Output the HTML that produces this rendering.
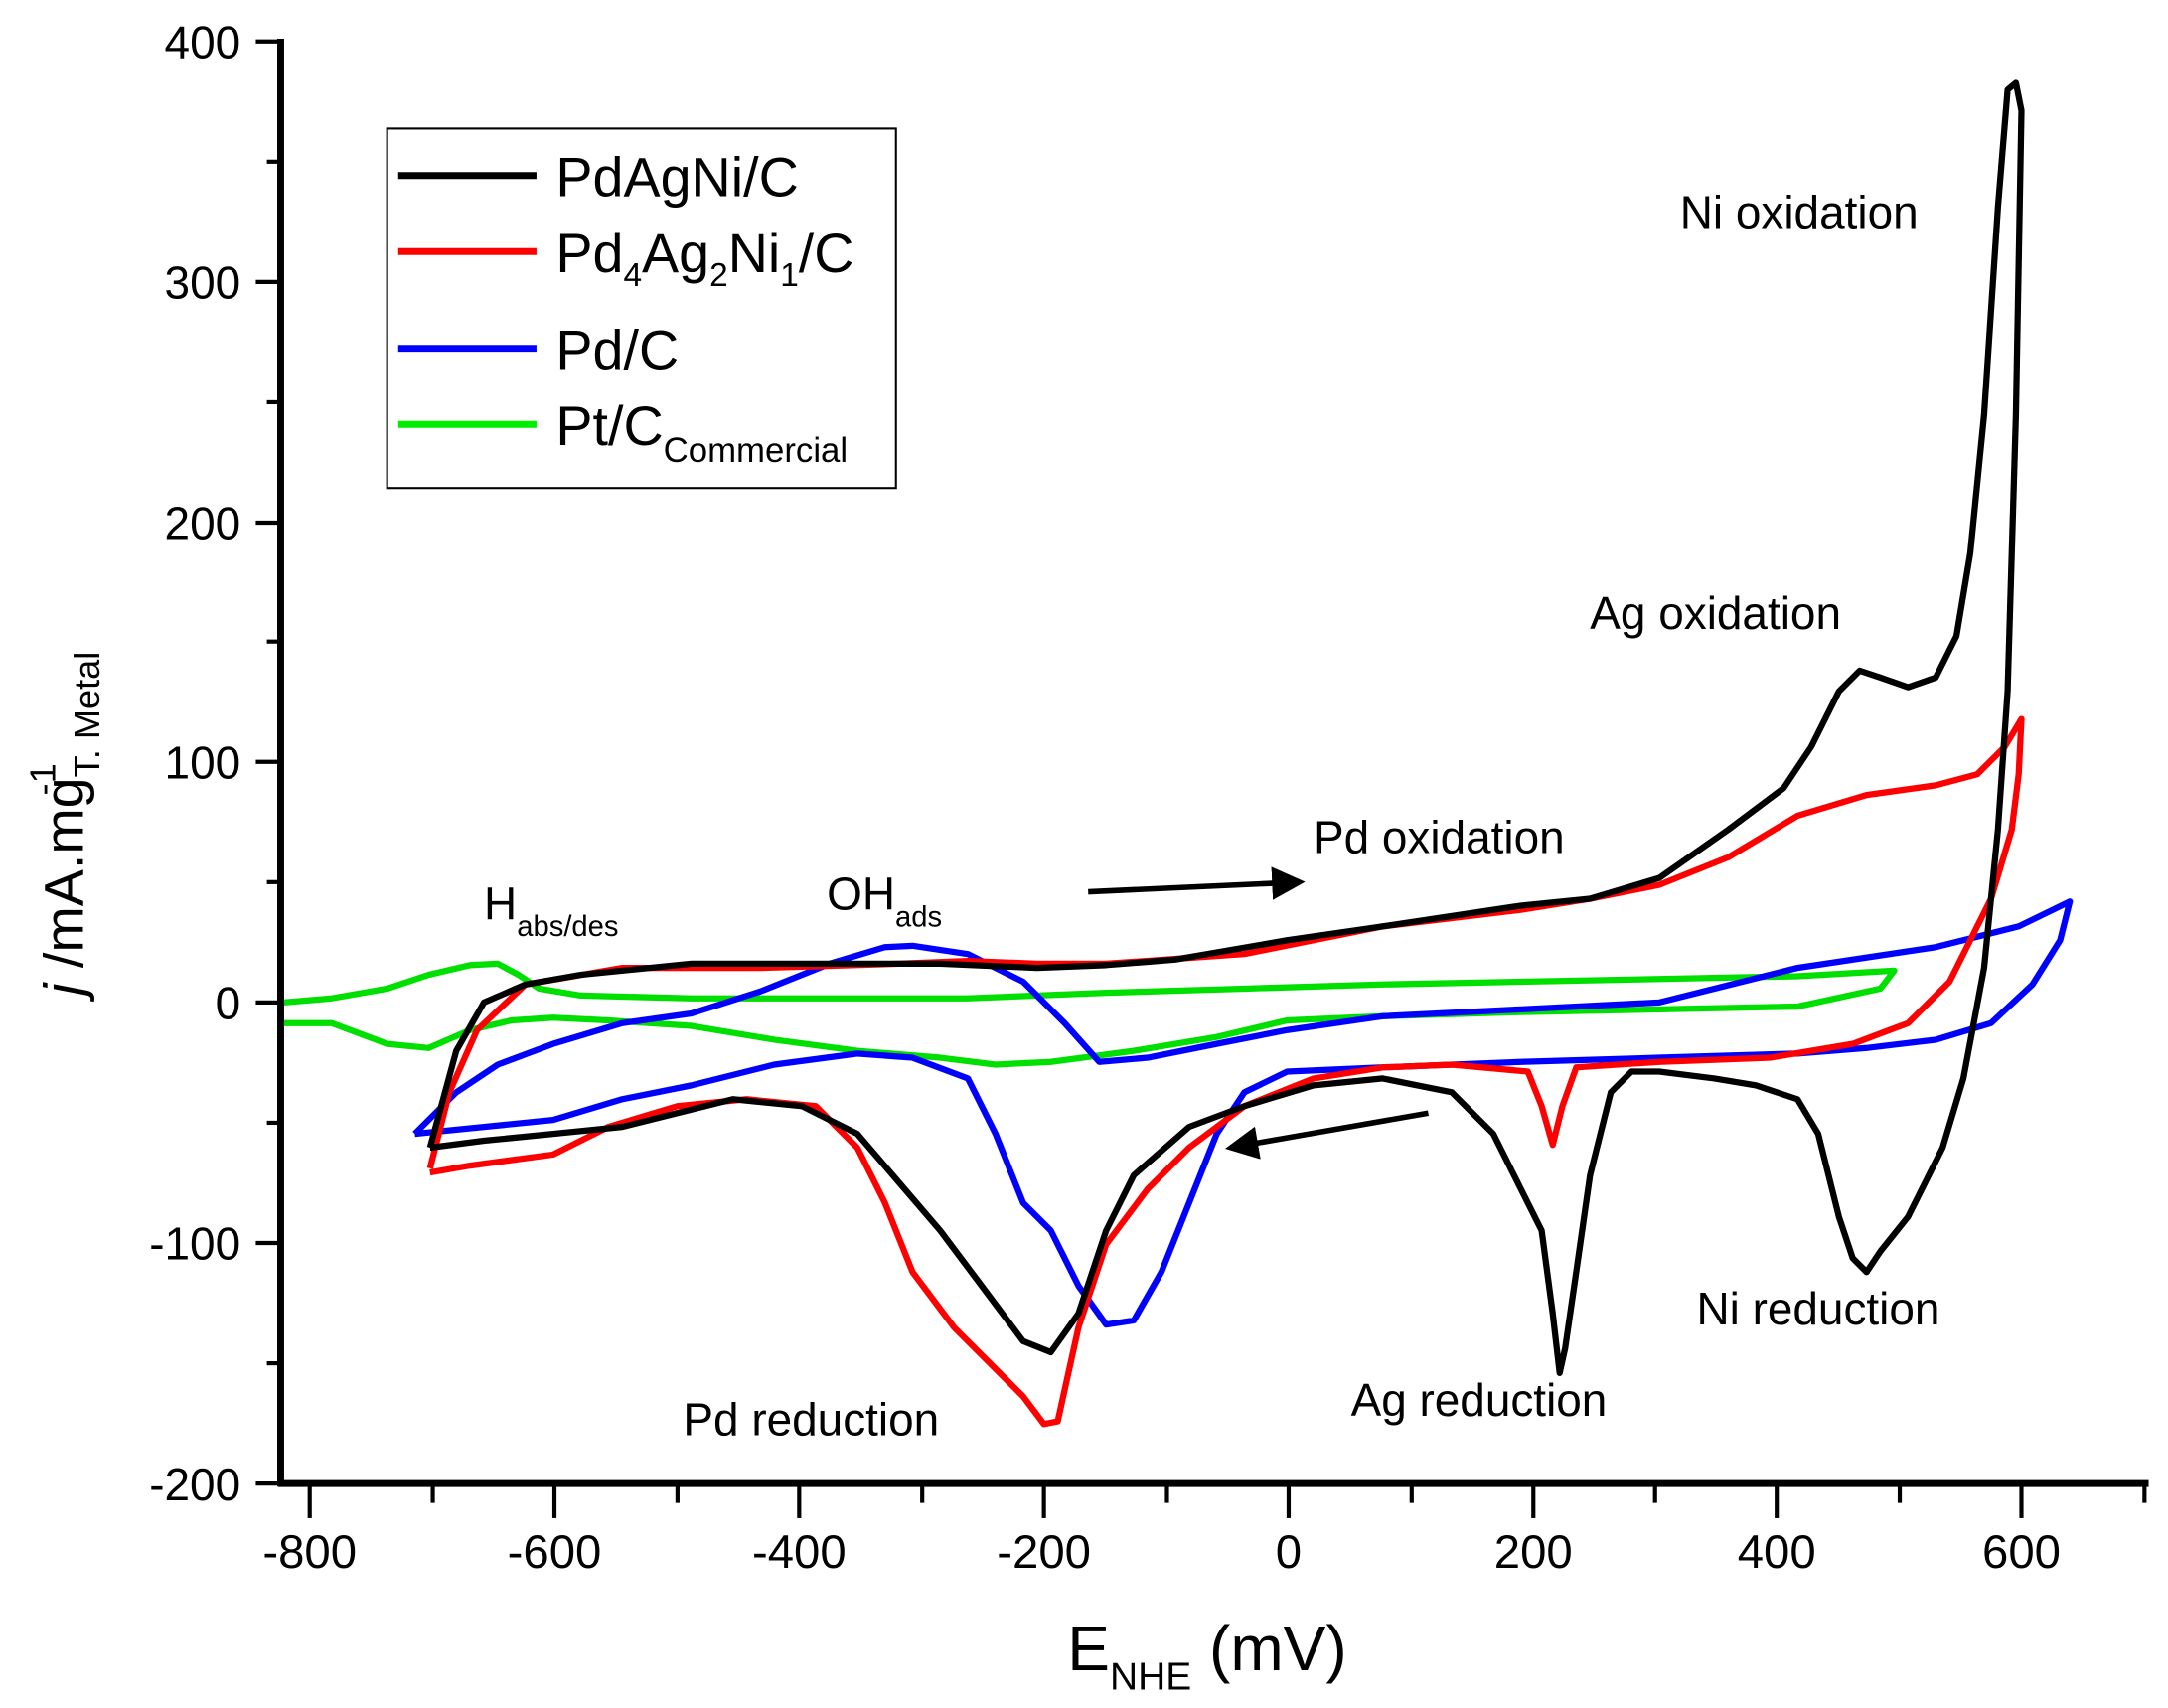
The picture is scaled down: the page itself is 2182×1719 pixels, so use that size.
<!DOCTYPE html><html><head><style>body{margin:0;background:#fff}svg{display:block}text{font-family:"Liberation Sans",sans-serif;fill:#000}</style></head><body>
<svg width="2182" height="1719" viewBox="0 0 1568 1235.3" preserveAspectRatio="none">
<rect width="1568" height="1236" fill="#fff"/>
<defs><marker id="ar" markerWidth="6" markerHeight="6" refX="5" refY="3" orient="auto"><path d="M0,0L6,3L0,6z" fill="#000"/></marker></defs>
<g fill="none" stroke-width="4.5" stroke-linejoin="round">
<polyline stroke="#00e000" points="205,725 240,722 280,715 310,705 340,698 360,697 375,705 390,715 420,720 500,722 600,722 700,722 800,718 900,715 1000,712 1100,710 1200,708 1300,706 1370,702 1360,715 1300,728 1200,730 1100,732 1000,735 931,738 880,750 820,760 760,768 720,770 680,765 620,760 560,752 500,742 440,738 400,736 370,738 340,745 310,758 280,755 240,740 205,740"/>
<polyline stroke="#0000ff" points="300,820 330,790 360,770 400,755 450,740 500,733 550,717 600,697 640,685 660,684 700,690 740,710 770,740 795,768 830,765 880,755 931,745 1000,735 1100,730 1200,725 1300,700 1400,685 1460,670 1497,652 1490,680 1470,712 1440,740 1400,752 1350,758 1300,762 1200,765 1100,768 1000,772 931,775 900,790 880,820 860,870 840,920 820,955 800,958 780,930 760,890 740,870 720,820 700,780 660,765 620,762 560,770 500,785 450,795 400,810 350,815 300,820"/>
<polyline stroke="#ff0000" points="311,845 325,790 345,745 380,712 450,700 550,700 650,697 700,695 750,697 800,697 900,690 1000,670 1100,658 1150,650 1200,640 1250,620 1300,590 1350,575 1400,568 1430,560 1450,540 1462,520 1460,560 1455,600 1440,650 1410,710 1380,740 1340,755 1280,765 1200,768 1140,772 1130,800 1123,828 1115,800 1105,775 1050,770 1000,772 950,780 900,800 860,830 830,860 800,900 780,960 765,1028 755,1030 740,1010 720,990 690,960 660,920 640,870 620,830 590,800 540,795 490,800 440,815 400,835 340,843 311,848"/>
<polyline stroke="#000" points="311,830 330,760 350,725 380,712 420,705 500,697 600,697 680,697 750,700 800,698 850,694 931,680 1000,670 1100,655 1150,650 1200,635 1250,600 1290,570 1310,540 1330,500 1345,485 1360,490 1380,497 1400,490 1415,460 1425,400 1435,300 1445,150 1452,65 1458,60 1462,80 1458,300 1452,500 1445,600 1435,700 1420,780 1405,830 1380,880 1360,905 1350,920 1340,910 1330,880 1315,820 1300,795 1270,785 1240,780 1200,775 1180,775 1165,790 1150,850 1140,920 1132,975 1128,993 1123,950 1115,890 1100,860 1080,820 1050,790 1000,780 950,785 900,800 860,815 820,850 800,890 780,950 760,978 740,970 710,930 680,890 650,855 620,820 580,800 530,795 490,805 450,815 400,820 350,825 311,830"/>
</g>
<g stroke="#000" stroke-width="4">
<line x1="787" y1="645" x2="940" y2="638" marker-end="url(#ar)"/>
<line x1="1033" y1="805" x2="890" y2="830" marker-end="url(#ar)"/>
</g>
<g stroke="#000" stroke-width="5" fill="none">
<line x1="203" y1="28" x2="203" y2="1075"/>
<line x1="201" y1="1073" x2="1554" y2="1073"/>
</g>
<g stroke="#000" stroke-width="3">
<line x1="185" y1="30" x2="203" y2="30"/><line x1="185" y1="204" x2="203" y2="204"/><line x1="185" y1="378" x2="203" y2="378"/><line x1="185" y1="551" x2="203" y2="551"/><line x1="185" y1="725" x2="203" y2="725"/><line x1="185" y1="899" x2="203" y2="899"/><line x1="185" y1="1073" x2="203" y2="1073"/>
<line x1="193" y1="117" x2="203" y2="117"/><line x1="193" y1="291" x2="203" y2="291"/><line x1="193" y1="464" x2="203" y2="464"/><line x1="193" y1="638" x2="203" y2="638"/><line x1="193" y1="812" x2="203" y2="812"/><line x1="193" y1="986" x2="203" y2="986"/>
<line x1="224" y1="1073" x2="224" y2="1098"/><line x1="401" y1="1073" x2="401" y2="1098"/><line x1="578" y1="1073" x2="578" y2="1098"/><line x1="755" y1="1073" x2="755" y2="1098"/><line x1="932" y1="1073" x2="932" y2="1098"/><line x1="1109" y1="1073" x2="1109" y2="1098"/><line x1="1285" y1="1073" x2="1285" y2="1098"/><line x1="1462" y1="1073" x2="1462" y2="1098"/>
<line x1="313" y1="1073" x2="313" y2="1087"/><line x1="490" y1="1073" x2="490" y2="1087"/><line x1="667" y1="1073" x2="667" y2="1087"/><line x1="844" y1="1073" x2="844" y2="1087"/><line x1="1021" y1="1073" x2="1021" y2="1087"/><line x1="1197" y1="1073" x2="1197" y2="1087"/><line x1="1374" y1="1073" x2="1374" y2="1087"/><line x1="1551" y1="1073" x2="1551" y2="1087"/>
</g>
<g font-size="33" text-anchor="end">
<text x="174" y="42">400</text><text x="174" y="216">300</text><text x="174" y="390">200</text><text x="174" y="563">100</text><text x="174" y="737">0</text><text x="174" y="911">-100</text><text x="174" y="1085">-200</text>
</g>
<g font-size="34" text-anchor="middle">
<text x="224" y="1134">-800</text><text x="401" y="1134">-600</text><text x="578" y="1134">-400</text><text x="755" y="1134">-200</text><text x="932" y="1134">0</text><text x="1109" y="1134">200</text><text x="1285" y="1134">400</text><text x="1462" y="1134">600</text>
</g>
<text x="772" y="1208" font-size="46">E<tspan font-size="28" dy="14">NHE</tspan><tspan dy="-14"> (mV)</tspan></text>
<text transform="translate(60,720) rotate(-90)" font-size="40"><tspan font-style="italic">j</tspan> /mA.mg<tspan font-size="26" dy="12">T. Metal</tspan><tspan font-size="26" dy="-32" dx="-104">-1</tspan></text>
<rect x="280" y="93" width="368" height="260" fill="#fff" stroke="#000" stroke-width="1.5"/>
<g stroke-width="5"><line x1="288" y1="127" x2="388" y2="127" stroke="#000"/><line x1="288" y1="182" x2="388" y2="182" stroke="#f00"/><line x1="288" y1="252" x2="388" y2="252" stroke="#00f"/><line x1="288" y1="307" x2="388" y2="307" stroke="#0e0"/></g>
<g font-size="40"><text x="402" y="142">PdAgNi/C</text>
<text x="402" y="197">Pd<tspan font-size="24" dy="10">4</tspan><tspan dy="-10">Ag</tspan><tspan font-size="24" dy="10">2</tspan><tspan dy="-10">Ni</tspan><tspan font-size="24" dy="10">1</tspan><tspan dy="-10">/C</tspan></text>
<text x="402" y="267">Pd/C</text>
<text x="402" y="322">Pt/C<tspan font-size="25" dy="12">Commercial</tspan></text></g>
<g font-size="33">
<text x="1215" y="165">Ni oxidation</text><text x="1150" y="455">Ag oxidation</text><text x="950" y="617">Pd oxidation</text>
<text x="598" y="658">OH<tspan font-size="21" dy="12">ads</tspan></text>
<text x="350" y="665">H<tspan font-size="21" dy="12">abs/des</tspan></text>
<text x="1227" y="958">Ni reduction</text><text x="977" y="1024">Ag reduction</text><text x="494" y="1038">Pd reduction</text>
</g>
</svg></body></html>
